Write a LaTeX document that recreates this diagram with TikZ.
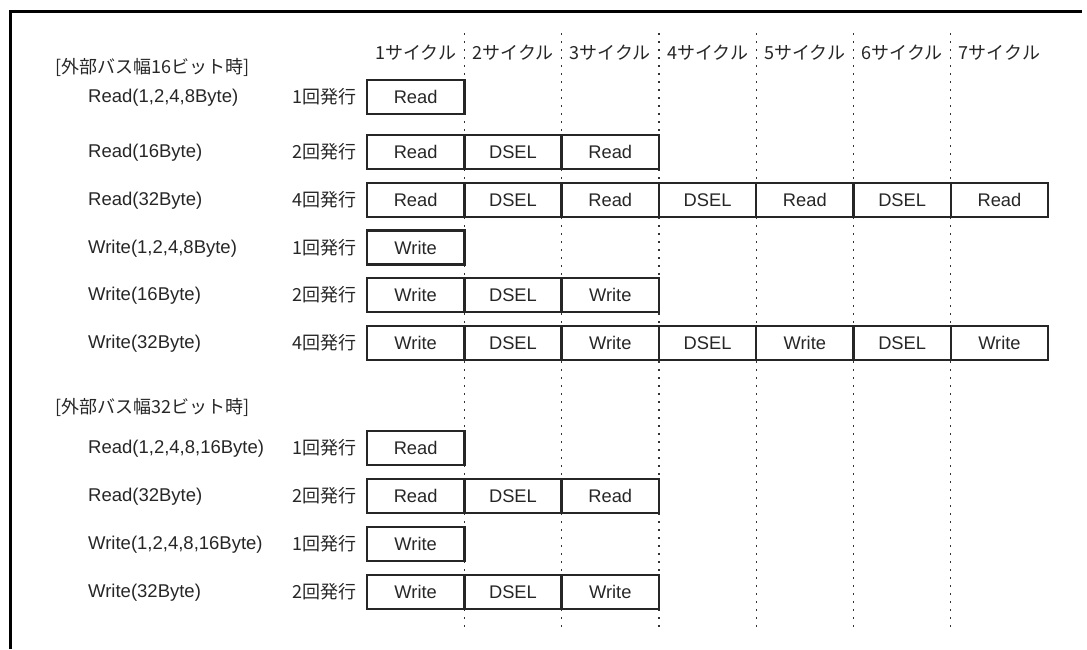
\documentclass[tikz,border=0pt]{standalone}
\usepackage{fontspec}
\setmainfont{Liberation Sans}
\newfontfamily\jp{Noto Sans CJK JP}
\usetikzlibrary{positioning}

\begin{document}
\begin{tikzpicture}[x=1pt,y=-1pt,
  cell/.style={draw=black!85, line width=2.4pt, minimum width=97.3pt, minimum height=34pt,
    inner sep=0pt, outer sep=0pt, text=black!85, font=\fontsize{18.3}{20}\selectfont},
  oplabel/.style={anchor=west, inner sep=0pt, text=black!85, font=\fontsize{18.5}{20}\selectfont},
  cntlabel/.style={anchor=east, inner sep=0pt, text=black!85, font=\jp\fontsize{18}{20}\selectfont},
  headlabel/.style={inner sep=0pt, text=black!85, font=\jp\fontsize{18}{20}\selectfont},
  grid/.style={line width=1.2pt, black!80, dash pattern=on 2pt off 6pt}]
\useasboundingbox (0,0) rectangle (1087,649);
% frame
\draw[line width=3pt] (10.5,649) -- (10.5,11) -- (1082,11);
% cycle grid
\foreach \k in {1,...,6}
  \draw[grid] (367+97.3*\k,33) -- (367+97.3*\k,631);
\foreach \k in {1,...,7}
  \node[headlabel] (cyc\k) at (415.65+97.3*\k-97.3,53) {\k サイクル};
% 16-bit bus
\node[headlabel, anchor=west] (H16) at (55,67) {[外部バス幅16ビット時]};
\node[oplabel] (op1) at (88,98) {Read(1,2,4,8Byte)};
\node[cntlabel] (n1) at (357,97) {1回発行};
\node[cell] (c1a) at (415.65,97) {Read};
\node[oplabel] (op2) at (88,153) {Read(16Byte)};
\node[cntlabel] (n2) at (357,152) {2回発行};
\node[cell] (c2a) at (415.65,152) {Read};
\node[cell, right=0pt of c2a] (c2b) {DSEL};
\node[cell, right=0pt of c2b] (c2c) {Read};
\node[oplabel] (op3) at (88,201) {Read(32Byte)};
\node[cntlabel] (n3) at (357,200) {4回発行};
\foreach \t [count=\i] in {Read,DSEL,Read,DSEL,Read,DSEL,Read}
  \node[cell] (c3\i) at (415.65+97.3*\i-97.3,200) {\t};
\node[oplabel] (op4) at (88,248.5) {Write(1,2,4,8Byte)};
\node[cntlabel] (n4) at (357,247.5) {1回発行};
\node[cell] (c4a) at (415.65,247.5) {Write};
\node[oplabel] (op5) at (88,296) {Write(16Byte)};
\node[cntlabel] (n5) at (357,295) {2回発行};
\node[cell] (c5a) at (415.65,295) {Write};
\node[cell, right=0pt of c5a] (c5b) {DSEL};
\node[cell, right=0pt of c5b] (c5c) {Write};
\node[oplabel] (op6) at (88,344) {Write(32Byte)};
\node[cntlabel] (n6) at (357,343) {4回発行};
\foreach \t [count=\i] in {Write,DSEL,Write,DSEL,Write,DSEL,Write}
  \node[cell] (c6\i) at (415.65+97.3*\i-97.3,343) {\t};
% 32-bit bus
\node[headlabel, anchor=west] (H32) at (55,407) {[外部バス幅32ビット時]};
\node[oplabel] (op7) at (88,449) {Read(1,2,4,8,16Byte)};
\node[cntlabel] (n7) at (357,448) {1回発行};
\node[cell] (c7a) at (415.65,448) {Read};
\node[oplabel] (op8) at (88,497) {Read(32Byte)};
\node[cntlabel] (n8) at (357,496) {2回発行};
\node[cell] (c8a) at (415.65,496) {Read};
\node[cell, right=0pt of c8a] (c8b) {DSEL};
\node[cell, right=0pt of c8b] (c8c) {Read};
\node[oplabel] (op9) at (88,545) {Write(1,2,4,8,16Byte)};
\node[cntlabel] (n9) at (357,544) {1回発行};
\node[cell] (c9a) at (415.65,544) {Write};
\node[oplabel] (op10) at (88,593) {Write(32Byte)};
\node[cntlabel] (n10) at (357,592) {2回発行};
\node[cell] (c10a) at (415.65,592) {Write};
\node[cell, right=0pt of c10a] (c10b) {DSEL};
\node[cell, right=0pt of c10b] (c10c) {Write};
\end{tikzpicture}
\end{document}
